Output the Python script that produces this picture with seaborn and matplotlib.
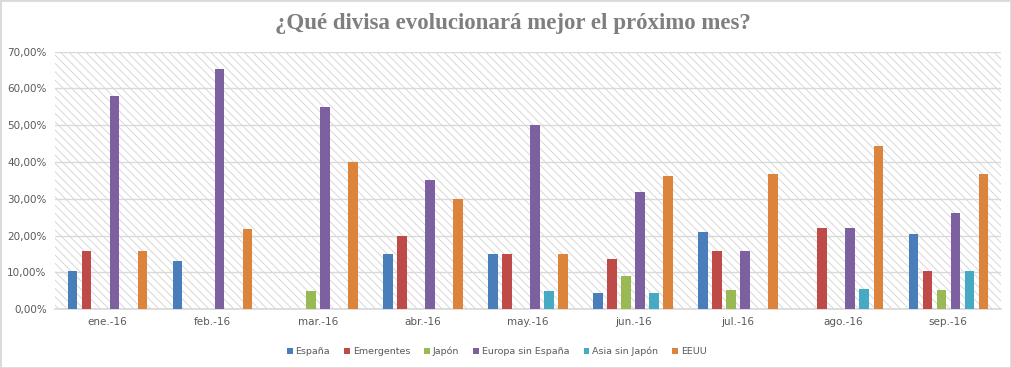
import numpy as np
import pandas as pd
import seaborn as sns
import matplotlib.pyplot as plt
from matplotlib.patches import Rectangle
from matplotlib.ticker import FuncFormatter, FixedLocator

meses = ["ene.-16", "feb.-16", "mar.-16", "abr.-16", "may.-16",
         "jun.-16", "jul.-16", "ago.-16", "sep.-16"]
series = ["España", "Emergentes", "Japón", "Europa sin España", "Asia sin Japón", "EEUU"]

espana = [10.4, 13.0, 0, 15.0, 15.0, 4.4, 21.0, 0, 20.5]
emergentes = [15.8, 0, 0, 20.0, 15.0, 13.7, 15.8, 22.1, 10.4]
japon = [0, 0, 5.0, 0, 0, 9.1, 5.3, 0, 5.3]
europa = [58.0, 65.3, 55.0, 35.0, 50.0, 31.9, 15.8, 22.1, 26.2]
asia = [0, 0, 0, 0, 5.0, 4.4, 0, 5.5, 10.4]
eeuu = [15.8, 21.8, 40.0, 30.0, 15.0, 36.2, 36.8, 44.4, 36.8]

colores = ["#4A7EBB", "#BE4B48", "#98B954", "#7D60A0", "#46AAC5", "#DD843C"]

df = pd.DataFrame({"mes": meses, "España": espana, "Emergentes": emergentes,
                   "Japón": japon, "Europa sin España": europa,
                   "Asia sin Japón": asia, "EEUU": eeuu})
largo = df.melt(id_vars="mes", var_name="serie", value_name="valor")

sns.set_theme(style="white")
plt.rcParams["font.family"] = ["DejaVu Sans"]
plt.rcParams["hatch.color"] = "#d2d2d2"
plt.rcParams["hatch.linewidth"] = 0.6

fig = plt.figure(figsize=(10.11, 3.68), dpi=100)
ax = fig.add_axes([0.0544, 0.160, 0.9356, 0.6995])

# fondo rayado
ax.add_patch(Rectangle((0, 0), 1, 1, transform=ax.transAxes, facecolor="white",
                       edgecolor="#d2d2d2", hatch="\\" * 4, linewidth=0, zorder=0))

sns.barplot(data=largo, x="mes", y="valor", hue="serie", hue_order=series,
            palette=colores, width=0.8, gap=0.32, ax=ax, zorder=3, legend=True,
            linewidth=0, saturation=1)

ax.set_ylim(0, 70)
ax.set_xlim(-0.5, len(meses) - 0.5)
ax.yaxis.set_major_locator(FixedLocator(np.arange(0, 71, 10)))
ax.yaxis.set_major_formatter(FuncFormatter(lambda v, p: f"{v:.2f}".replace(".", ",") + "%"))
ax.grid(axis="y", color="#d9d9d9", linewidth=1, zorder=1)
ax.set_axisbelow(True)
ax.set_xlabel("")
ax.set_ylabel("")

for s in ["top", "right", "left"]:
    ax.spines[s].set_visible(False)
ax.spines["bottom"].set_color("#d9d9d9")

ax.tick_params(axis="y", length=0, labelsize=7.5, labelcolor="#595959", pad=6)
ax.tick_params(axis="x", length=0, labelsize=7.5, labelcolor="#595959", pad=6)
ax.set_xticks(np.arange(-0.5, len(meses)), minor=True)
ax.tick_params(axis="x", which="minor", length=4, color="#d9d9d9", direction="out")

leg = ax.legend(loc="center", bbox_to_anchor=(0.467, -0.165), ncol=6, frameon=False,
                fontsize=6.8, handlelength=0.6, handleheight=0.6, handletextpad=0.3,
                columnspacing=1.5)
for t in leg.get_texts():
    t.set_color("#595959")

fig.text(0.507, 0.937, "¿Qué divisa evolucionará mejor el próximo mes?", ha="center",
         va="center", fontsize=16.5, fontweight="bold", color="#7f7f7f",
         family=["Liberation Serif"])

fig.patches.append(Rectangle((0, 0), 1, 1, transform=fig.transFigure, fill=False,
                             edgecolor="#d9d9d9", linewidth=2))

fig.savefig("out.png", dpi=100)
